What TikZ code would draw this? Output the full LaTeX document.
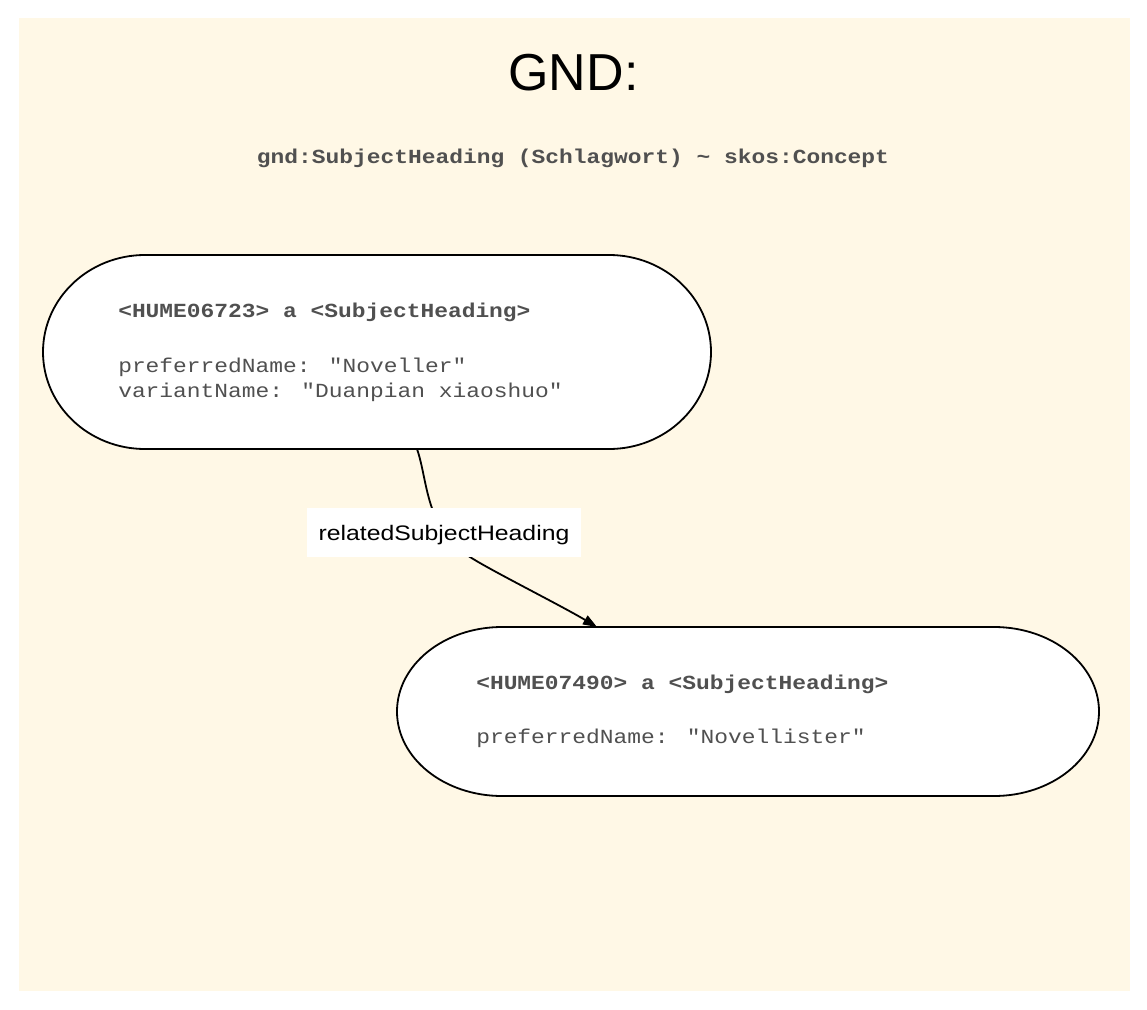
\documentclass[tikz,border=0pt]{standalone}
\usepackage{fontspec}
\setmainfont{Liberation Sans}
\newfontfamily\monofont[FakeStretch=1.145]{Liberation Mono}
\newfontfamily\labelfont[FakeStretch=1.18]{Liberation Sans}
\usetikzlibrary{arrows.meta,backgrounds,calc}
\definecolor{cream}{HTML}{FFF8E6}
\definecolor{txtgray}{HTML}{505050}
\begin{document}
\begin{tikzpicture}[x=0.75pt,y=-0.75pt,
  monotext/.style={font=\monofont\fontsize{15pt}{18pt}\selectfont, text=txtgray, inner sep=0pt, anchor=base west},
  monobold/.style={monotext, font=\monofont\bfseries\fontsize{15pt}{18pt}\selectfont},
  holder/.style={inner sep=0pt, outer sep=0pt},
  shapeline/.style={draw=black, fill=white, line width=1.35pt},
  relarrow/.style={draw=black, line width=1.35pt, -{Triangle[length=10.5pt,width=7.5pt]}},
  elabel/.style={fill=white, font=\labelfont\fontsize{15.75pt}{18pt}\selectfont, inner sep=0pt,
                 minimum width=205.5pt, minimum height=36.75pt, text height=14pt, text depth=2.75pt}
]
\useasboundingbox (0,0) rectangle (1147,1010);

% node holders
\node[holder, minimum width=501pt, minimum height=145.5pt] (n1) at (377,352) {};
\node[holder, minimum width=526.5pt, minimum height=126.75pt] (n2) at (748,711.5) {};

\begin{scope}[on background layer]
  \fill[cream] (19,18) rectangle (1130,991);
  \draw[shapeline] ($(n1.north west)+(102,0)$) -- ($(n1.north east)+(-102,0)$)
     arc[start angle=90, end angle=-90, x radius=76.5pt, y radius=72.75pt]
     -- ($(n1.south west)+(102,0)$)
     arc[start angle=270, end angle=90, x radius=76.5pt, y radius=72.75pt] -- cycle;
  \draw[shapeline] ($(n2.north west)+(105,0)$) -- ($(n2.north east)+(-105,0)$)
     arc[start angle=90, end angle=-90, x radius=78.75pt, y radius=63.375pt]
     -- ($(n2.south west)+(105,0)$)
     arc[start angle=270, end angle=90, x radius=78.75pt, y radius=63.375pt] -- cycle;
\end{scope}

% titles
\node[inner sep=0pt, anchor=base, font=\fontsize{39pt}{44pt}\selectfont] (title) at (573.5,90) {GND:};
\node[monobold, anchor=base] (subtitle) at (573,163) {gnd:SubjectHeading (Schlagwort) \textasciitilde{} skos:Concept};

% node 1 text
\node[monobold] (n1a) at (118,317) {<HUME06723> a <SubjectHeading>};
\node[monotext] (n1b) at (118,372) {preferredName: "Noveller"};
\node[monotext] (n1c) at (118,397) {variantName: "Duanpian xiaoshuo"};

% node 2 text
\node[monobold] (n2a) at (476,689) {<HUME07490> a <SubjectHeading>};
\node[monotext] (n2b) at (476,743) {preferredName: "Novellister"};

% edge
\draw[relarrow] ([xshift=30pt]n1.south) .. controls (428,480) and (425,530) .. (470,557)
   .. controls (490,570) and (560,605) .. ([xshift=-113.25pt]n2.north);
\node[elabel] (lab) at (444,532.5) {relatedSubjectHeading};
\end{tikzpicture}
\end{document}
